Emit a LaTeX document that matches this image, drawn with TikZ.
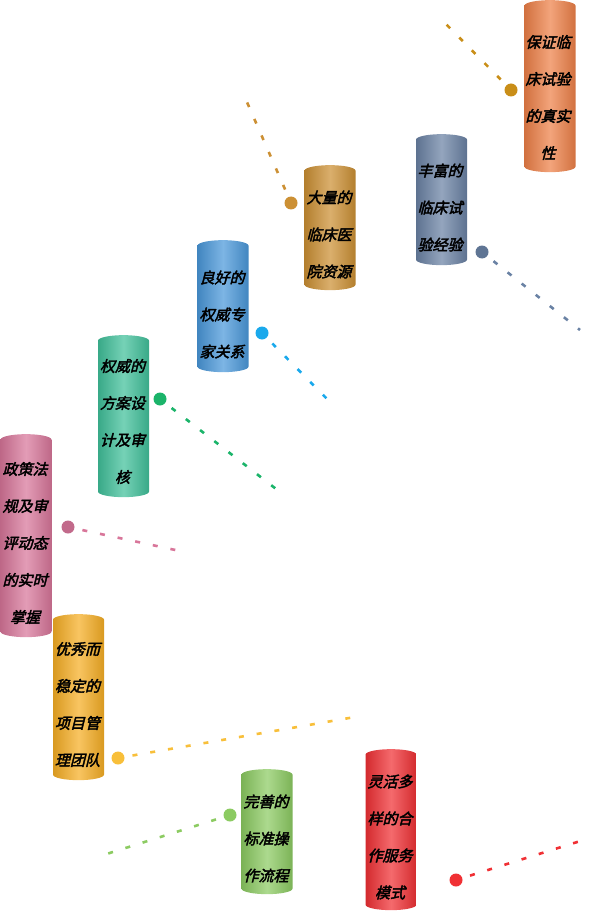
\documentclass[tikz,border=0pt]{standalone}
\usepackage{fontspec}
\usepackage{tikz}
\usetikzlibrary{shapes.geometric}
\newfontfamily\cjk[FakeSlant=0.25,FakeBold=2.6]{Noto Sans CJK SC}

\definecolor{qualityc}{HTML}{EE8048}
\definecolor{experiencec}{HTML}{6A82A4}
\definecolor{hospitalc}{HTML}{CC9034}
\definecolor{expertc}{HTML}{4A98DA}
\definecolor{designc}{HTML}{40C09A}
\definecolor{policyc}{HTML}{D8769A}
\definecolor{teamc}{HTML}{F6AE24}
\definecolor{sopc}{HTML}{8CCB62}
\definecolor{modec}{HTML}{F03034}
% dot / trail colours
\definecolor{qualitydot}{HTML}{C98E18}
\definecolor{expertdot}{HTML}{1AA9EC}
\definecolor{designdot}{HTML}{1BB46A}
\definecolor{teamdot}{HTML}{F8BF3A}

\begin{document}
\begin{tikzpicture}[x=1pt, y=-1pt,
    pillar/.style={cylinder, shape border rotate=90, aspect=0.25, draw=none,
                   inner sep=0pt, text width=44pt, minimum width=51pt,
                   left color=#1!88!black, right color=#1!88!black, middle color=#1!72!white},
    caption/.style={align=center, inner sep=0pt, font=\cjk\fontsize{15}{37}\selectfont},
    dot/.style={circle, fill=#1, inner sep=0pt, minimum size=13pt},
    trail/.style={line width=2.6pt, dash pattern=on 5pt off 13pt, dash phase=-8pt, draw=#1}]

    \useasboundingbox (0,0) rectangle (591,917);

    % pillars
    \node[pillar=qualityc, minimum height=172pt] (quality) at (550,89) {};
    \node[pillar=experiencec, minimum height=131pt] (experience) at (441.5,202.5) {};
    \node[pillar=hospitalc, minimum height=125pt] (hospital) at (330,230.5) {};
    \node[pillar=expertc, minimum height=132pt] (expert) at (223,309) {};
    \node[pillar=designc, minimum height=162pt] (design) at (123.5,419) {};
    \node[pillar=policyc, minimum height=203pt] (policy) at (26,538.5) {};
    \node[pillar=teamc, minimum height=166pt] (team) at (78.5,700) {};
    \node[pillar=sopc, minimum height=125pt] (sop) at (267,834.5) {};
    \node[pillar=modec, minimum height=161pt] (mode) at (391,832.5) {};

    % texts
    \node[caption] (quality-text) at (548,97.5) {保证临\\床试验\\的真实\\性};
    \node[caption] (experience-text) at (440,207.5) {丰富的\\临床试\\验经验};
    \node[caption] (hospital-text) at (329,234.5) {大量的\\临床医\\院资源};
    \node[caption] (expert-text) at (222,314.5) {良好的\\权威专\\家关系};
    \node[caption] (design-text) at (122.5,421.5) {权威的\\方案设\\计及审\\核};
    \node[caption] (policy-text) at (25,543) {政策法\\规及审\\评动态\\的实时\\掌握};
    \node[caption] (team-text) at (77.5,704.5) {优秀而\\稳定的\\项目管\\理团队};
    \node[caption] (sop-text) at (266,838.5) {完善的\\标准操\\作流程};
    \node[caption] (mode-text) at (390,837) {灵活多\\样的合\\作服务\\模式};

    % dots and dotted trails
    \node[dot=qualitydot] (quality-dot) at (511,90) {};
    \node[dot=experiencec!90!black] (experience-dot) at (482,252) {};
    \node[dot=hospitalc] (hospital-dot) at (291,203) {};
    \node[dot=expertdot] (expert-dot) at (262,333) {};
    \node[dot=designdot] (design-dot) at (160,399) {};
    \node[dot=policyc!90!black] (policy-dot) at (68,527) {};
    \node[dot=teamdot] (team-dot) at (118,758) {};
    \node[dot=sopc] (sop-dot) at (230,815) {};
    \node[dot=modec] (mode-dot) at (456,880) {};

    \coordinate (quality-end) at (440,18);
    \coordinate (experience-end) at (580,330);
    \coordinate (hospital-end) at (243,93);
    \coordinate (expert-end) at (335,407);
    \coordinate (design-end) at (280,492);
    \coordinate (policy-end) at (180,551);
    \coordinate (team-end) at (355,717);
    \coordinate (sop-end) at (97,857);
    \coordinate (mode-end) at (590,838);

    \draw[trail=qualitydot] (quality-dot) -- (quality-end);
    \draw[trail=experiencec] (experience-dot) -- (experience-end);
    \draw[trail=hospitalc] (hospital-dot) -- (hospital-end);
    \draw[trail=expertdot] (expert-dot) -- (expert-end);
    \draw[trail=designdot] (design-dot) -- (design-end);
    \draw[trail=policyc] (policy-dot) -- (policy-end);
    \draw[trail=teamdot] (team-dot) -- (team-end);
    \draw[trail=sopc] (sop-dot) -- (sop-end);
    \draw[trail=modec] (mode-dot) -- (mode-end);
\end{tikzpicture}
\end{document}
